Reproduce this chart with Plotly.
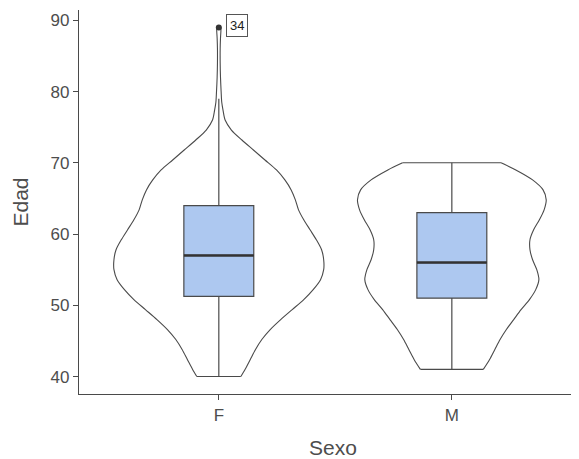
import plotly.graph_objects as go

# ---- data ----
categories = ["F", "M"]

# violin density profiles (relative width, max = 1) at given ages
ages_F = [40.0, 41.0, 42.4, 43.8, 45.2, 46.6, 48.0, 49.4, 50.8, 52.2, 53.6, 55.0, 56.4,
          57.8, 59.2, 60.6, 62.0, 63.4, 64.8, 66.2, 67.6, 69.0, 70.4, 71.8, 73.2, 74.6,
          76.0, 77.4, 78.5, 80.0, 82.0, 84.0, 86.0, 87.5, 88.5, 89.0]
dens_F = [0.21, 0.25, 0.30, 0.35, 0.41, 0.49, 0.59, 0.70, 0.81, 0.90, 0.97, 1.00, 1.00,
          0.98, 0.93, 0.87, 0.81, 0.76, 0.73, 0.69, 0.63, 0.55, 0.44, 0.33, 0.22, 0.12,
          0.06, 0.04, 0.028, 0.022, 0.016, 0.013, 0.013, 0.016, 0.02, 0.02]

ages_M = [41.0, 42.4, 43.8, 45.2, 46.6, 48.0, 49.4, 50.8, 52.2, 53.6, 55.0, 56.4, 57.8,
          59.2, 60.6, 62.0, 63.4, 64.8, 66.2, 67.6, 69.0, 70.0]
dens_M = [0.30, 0.36, 0.41, 0.46, 0.52, 0.59, 0.66, 0.74, 0.80, 0.83, 0.81, 0.77, 0.745,
          0.745, 0.78, 0.835, 0.88, 0.90, 0.87, 0.77, 0.61, 0.47]

# box statistics
q1 = [51.25, 51.0]
median = [57.0, 56.0]
q3 = [64.0, 63.0]
lower = [40.0, 41.0]
upper = [79.0, 70.0]

# outliers
out_cat = ["F"]
out_val = [89.0]
out_label = ["34"]

# ---- styling ----
LINE = "#4a4a4a"
TEXT = "#4d4d4d"
BOXFILL = "#adc8f0"
VWIDTH = 0.45   # half width of violin at max density
BWIDTH = 0.30   # box width
FONT = "Liberation Sans, Arial, sans-serif"

pos = {c: i + 1 for i, c in enumerate(categories)}

fig = go.Figure()

# boxes first (box layer sits below scatter layer anyway)
for i, cat in enumerate(categories):
    c = pos[cat]
    fig.add_trace(go.Box(x=[c], q1=[q1[i]], median=[median[i]], q3=[q3[i]],
                         lowerfence=[lower[i]], upperfence=[upper[i]],
                         orientation="v",
                         width=BWIDTH, whiskerwidth=0, fillcolor=BOXFILL,
                         line=dict(color=LINE, width=1.2), boxpoints=False,
                         hoverinfo="skip", showlegend=False))

# violin outlines: left side, right side (smooth) + flat trimmed ends
for cat, ages, dens in [("F", ages_F, dens_F), ("M", ages_M, dens_M)]:
    c = pos[cat]
    xl = [c - d * VWIDTH for d in dens]
    xr = [c + d * VWIDTH for d in dens]
    xs = xl + [None] + xr + [None] + [xl[0], xr[0]] + [None] + [xl[-1], xr[-1]]
    ys = ages + [None] + ages + [None] + [ages[0], ages[0]] + [None] + [ages[-1], ages[-1]]
    fig.add_trace(go.Scatter(x=xs, y=ys, mode="lines", connectgaps=False,
                             line=dict(color=LINE, width=1.1, shape="spline", smoothing=0.8),
                             hoverinfo="skip", showlegend=False))

# thicker median lines
for i, cat in enumerate(categories):
    c = pos[cat]
    fig.add_trace(go.Scatter(x=[c - BWIDTH / 2, c + BWIDTH / 2], y=[median[i], median[i]],
                             mode="lines", line=dict(color="#333333", width=2.4),
                             hoverinfo="skip", showlegend=False))

fig.add_trace(go.Scatter(x=[pos[c] for c in out_cat], y=out_val, mode="markers",
                         marker=dict(color="#333333", size=6), showlegend=False))
for c, v, lab in zip(out_cat, out_val, out_label):
    fig.add_annotation(x=pos[c], y=v, text=lab, showarrow=False, xanchor="left",
                       yanchor="middle", xshift=7, yshift=2,
                       font=dict(family=FONT, size=13, color="#222222"),
                       bordercolor="#555555", borderwidth=1, borderpad=3,
                       bgcolor="white")

fig.update_layout(
    width=579, height=459,
    margin=dict(l=71, r=0, t=2, b=73),
    plot_bgcolor="white", paper_bgcolor="white",
    font=dict(family=FONT, color=TEXT),
    showlegend=False,
)
fig.update_xaxes(range=[0.4, 2.58], tickmode="array",
                 tickvals=[pos[c] for c in categories], ticktext=categories,
                 showline=True, linecolor=LINE, linewidth=1.3, ticks="outside",
                 ticklen=5, tickcolor=LINE, showgrid=False, zeroline=False,
                 automargin=False,
                 tickfont=dict(size=17, color=TEXT),
                 title=dict(text="Sexo", font=dict(size=21, color=TEXT), standoff=16))
fig.update_yaxes(range=[37.55, 91.45], tickvals=[40, 50, 60, 70, 80, 90],
                 showline=True, linecolor=LINE, linewidth=1.3, ticks="outside",
                 ticklen=5, tickcolor=LINE, showgrid=False, zeroline=False,
                 automargin=False,
                 tickfont=dict(size=17, color=TEXT),
                 title=dict(text="Edad", font=dict(size=21, color=TEXT), standoff=16))

fig.write_html("out.html")
